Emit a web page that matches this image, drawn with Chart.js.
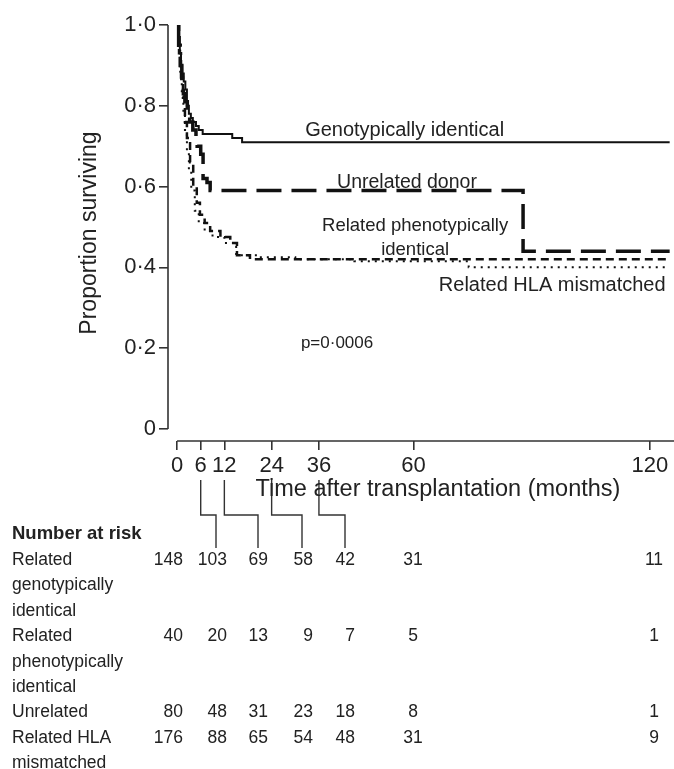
<!DOCTYPE html>
<html>
<head>
<meta charset="utf-8">
<script src="https://cdn.jsdelivr.net/npm/chart.js@4.4.1/dist/chart.umd.min.js"></script>
<style>
  body { margin: 0; background: #fff; }
  #wrap { position: relative; width: 674px; height: 769px; overflow: hidden; }
  #c { position: absolute; left: 0; top: 0; }
  #risk { position: absolute; left: 0; top: 0; width: 674px; height: 769px; font-family: "Liberation Sans", Arial, sans-serif; color: #222; }
  #risk div { position: absolute; white-space: nowrap; line-height: 20px; font-size: 17.5px; }
  #risk .head { font-weight: bold; font-size: 18.5px; }
</style>
</head>
<body>
<div id="wrap">
  <canvas id="c" width="674" height="769"></canvas>
  <div id="risk"></div>
</div>
<script>
// --- Curvas de sobrevida (Kaplan-Meier): meses x proporção ---
const genoTimes = [0, 0.3, 0.7, 1.0, 1.3, 1.7, 2.1, 2.5, 3.0, 3.5, 4.0, 4.8, 5.5, 6.5, 14, 16.5, 125];
const genoSurv  = [1.0, 0.97, 0.93, 0.90, 0.88, 0.86, 0.84, 0.80, 0.78, 0.77, 0.76, 0.75, 0.74, 0.73, 0.72, 0.71, 0.71];

const unrelTimes = [0, 0.4, 0.8, 1.2, 1.6, 2.0, 2.6, 3.2, 4.0, 4.8, 5.1, 6.0, 6.6, 7.6, 8.4, 87.8, 125];
const unrelSurv  = [1.0, 0.95, 0.90, 0.86, 0.83, 0.81, 0.78, 0.76, 0.74, 0.72, 0.70, 0.68, 0.62, 0.61, 0.59, 0.44, 0.44];

const phenoTimes = [0, 0.5, 1.0, 1.5, 2.0, 2.5, 3.3, 4.1, 5.0, 5.8, 7.0, 8.4, 11, 13.5, 15.2, 18.5, 125];
const phenoSurv  = [1.0, 0.93, 0.87, 0.82, 0.76, 0.72, 0.66, 0.60, 0.56, 0.53, 0.51, 0.49, 0.475, 0.46, 0.43, 0.42, 0.42];

const hlaTimes = [0, 0.4, 0.8, 1.2, 1.6, 2.0, 2.5, 3.0, 3.6, 4.5, 5.5, 7.0, 9.0, 12, 15, 20, 30, 45, 74, 125];
const hlaSurv  = [1.0, 0.94, 0.88, 0.83, 0.78, 0.74, 0.69, 0.64, 0.59, 0.54, 0.51, 0.49, 0.475, 0.46, 0.43, 0.425, 0.42, 0.415, 0.40, 0.40];

// --- Eixos ---
const xTicks = [0, 6, 12, 24, 36, 60, 120];
const yTicks = [0, 0.2, 0.4, 0.6, 0.8, 1.0];

// --- Número em risco ---
const riskGeno  = [148, 103, 69, 58, 42, 31, 11];
const riskPheno = [40, 20, 13, 9, 7, 5, 1];
const riskUnrel = [80, 48, 31, 23, 18, 8, 1];
const riskHla   = [176, 88, 65, 54, 48, 31, 9];
const bracketMonths = [6, 12, 24, 36];

const FONT = '"Liberation Sans", Arial, sans-serif';
const INK = '#222';
const LINE = '#111';

const toPts = (ts, ss) => ts.map((t, i) => ({ x: t, y: ss[i] }));

// rótulos das curvas (texto, mês, proporção)
const curveLabels = [
    { text: 'Genotypically identical', x: 32.5, y: 0.74, align: 'left', size: 20 },
    { text: 'Unrelated donor', x: 40.6, y: 0.609, align: 'left', size: 19.5 },
    { text: 'Related phenotypically', x: 60.4, y: 0.502, align: 'center', size: 18.5 },
    { text: 'identical', x: 60.4, y: 0.443, align: 'center', size: 18.5 },
    { text: 'Related HLA mismatched', x: 95.2, y: 0.354, align: 'center', size: 20 },
    { text: 'p=0·0006', x: 40.6, y: 0.213, align: 'center', size: 17 }
];

const overlay = {
    id: 'overlay',
    afterDraw(chart) {
        const { ctx, chartArea, scales: { x, y } } = chart;
        ctx.save();
        // linhas dos eixos (separadas, como no original)
        ctx.strokeStyle = '#333';
        ctx.lineWidth = 1.6;
        ctx.beginPath();
        ctx.moveTo(chartArea.left, y.getPixelForValue(1));
        ctx.lineTo(chartArea.left, y.getPixelForValue(0));
        ctx.moveTo(x.getPixelForValue(0), chartArea.bottom);
        ctx.lineTo(chartArea.right, chartArea.bottom);
        ctx.stroke();

        // colchetes ligando os ticks à tabela
        const bottoms = [216, 258, 302, 345];
        ctx.lineWidth = 1.4;
        ctx.beginPath();
        bracketMonths.forEach((m, i) => {
            const px = x.getPixelForValue(m);
            ctx.moveTo(px, 480);
            ctx.lineTo(px, 515);
            ctx.lineTo(bottoms[i], 515);
            ctx.lineTo(bottoms[i], 548);
        });
        ctx.stroke();

        // textos
        ctx.fillStyle = INK;
        ctx.textBaseline = 'middle';
        curveLabels.forEach(l => {
            ctx.font = l.size + 'px ' + FONT;
            ctx.textAlign = l.align;
            ctx.fillText(l.text, x.getPixelForValue(l.x), y.getPixelForValue(l.y));
        });
        ctx.font = '23.5px ' + FONT;
        ctx.textAlign = 'center';
        ctx.fillText('Time after transplantation (months)', 438, 490);
        ctx.restore();
    }
};

new Chart(document.getElementById('c'), {
    type: 'line',
    data: {
        datasets: [{
            label: 'Genotypically identical',
            data: toPts(genoTimes, genoSurv),
            borderColor: LINE, borderWidth: 2, stepped: true, pointRadius: 0
        }, {
            label: 'Unrelated donor',
            data: toPts(unrelTimes, unrelSurv),
            borderColor: LINE, borderWidth: 3.5, borderDash: [25, 10], stepped: true, pointRadius: 0
        }, {
            label: 'Related phenotypically identical',
            data: toPts(phenoTimes, phenoSurv),
            borderColor: LINE, borderWidth: 2.5, borderDash: [8, 5], stepped: true, pointRadius: 0
        }, {
            label: 'Related HLA mismatched',
            data: toPts(hlaTimes, hlaSurv),
            borderColor: LINE, borderWidth: 2, borderDash: [2, 5], stepped: true, pointRadius: 0
        }]
    },
    options: {
        responsive: false, animation: false,
        layout: { padding: { top: 25, left: 0, right: 0, bottom: 265 } },
        plugins: { legend: { display: false }, tooltip: { enabled: false } },
        scales: {
            x: {
                type: 'linear', min: -2.3, max: 126.1,
                afterBuildTicks: s => { s.ticks = xTicks.map(v => ({ value: v })); },
                afterFit: s => { s.height = 63; },
                border: { display: false },
                grid: { drawOnChartArea: false, drawTicks: true, tickLength: 9, color: '#333', lineWidth: 1.6 },
                ticks: { font: { size: 22, family: FONT }, color: INK, padding: 3, maxRotation: 0, autoSkip: false }
            },
            y: {
                type: 'linear', min: -0.03, max: 1.0,
                afterBuildTicks: s => { s.ticks = yTicks.map(v => ({ value: v })); },
                afterFit: s => { s.width = 168; },
                border: { display: false },
                grid: { drawOnChartArea: false, drawTicks: true, tickLength: 9, color: '#333', lineWidth: 1.6 },
                ticks: {
                    font: { size: 22, family: FONT }, color: INK, padding: 3,
                    callback: v => v === 0 ? '0' : v.toFixed(1).replace('.', '·')
                },
                title: { display: true, text: 'Proportion surviving', color: INK, font: { size: 23, family: FONT }, padding: { top: 76, bottom: 0 } }
            }
        }
    },
    plugins: [overlay]
});

// --- Tabela "Number at risk" em HTML ---
const risk = document.getElementById('risk');
const numRight = [183, 227, 268, 313, 355];
const numCenter = [413, 654];
const rowStep = 25.4;
const addText = (txt, left, cy, cls, align) => {
    const d = document.createElement('div');
    d.textContent = txt;
    if (cls) d.className = cls;
    d.style.top = (cy - 10) + 'px';
    if (align === 'right') { d.style.left = (left - 60) + 'px'; d.style.width = '60px'; d.style.textAlign = 'right'; }
    else if (align === 'center') { d.style.left = (left - 30) + 'px'; d.style.width = '60px'; d.style.textAlign = 'center'; }
    else d.style.left = left + 'px';
    risk.appendChild(d);
};
addText('Number at risk', 12, 533, 'head');
const groups = [
    { lines: ['Related', 'genotypically', 'identical'], values: riskGeno },
    { lines: ['Related', 'phenotypically', 'identical'], values: riskPheno },
    { lines: ['Unrelated'], values: riskUnrel },
    { lines: ['Related HLA', 'mismatched'], values: riskHla }
];
let line = 0;
groups.forEach(g => {
    const cy = 559 + rowStep * line;
    g.lines.forEach((t, k) => addText(t, 12, 559 + rowStep * (line + k)));
    g.values.forEach((v, i) => {
        if (i < 5) addText(String(v), numRight[i], cy, '', 'right');
        else addText(String(v), numCenter[i - 5], cy, '', 'center');
    });
    line += g.lines.length;
});
</script>
</body>
</html>
